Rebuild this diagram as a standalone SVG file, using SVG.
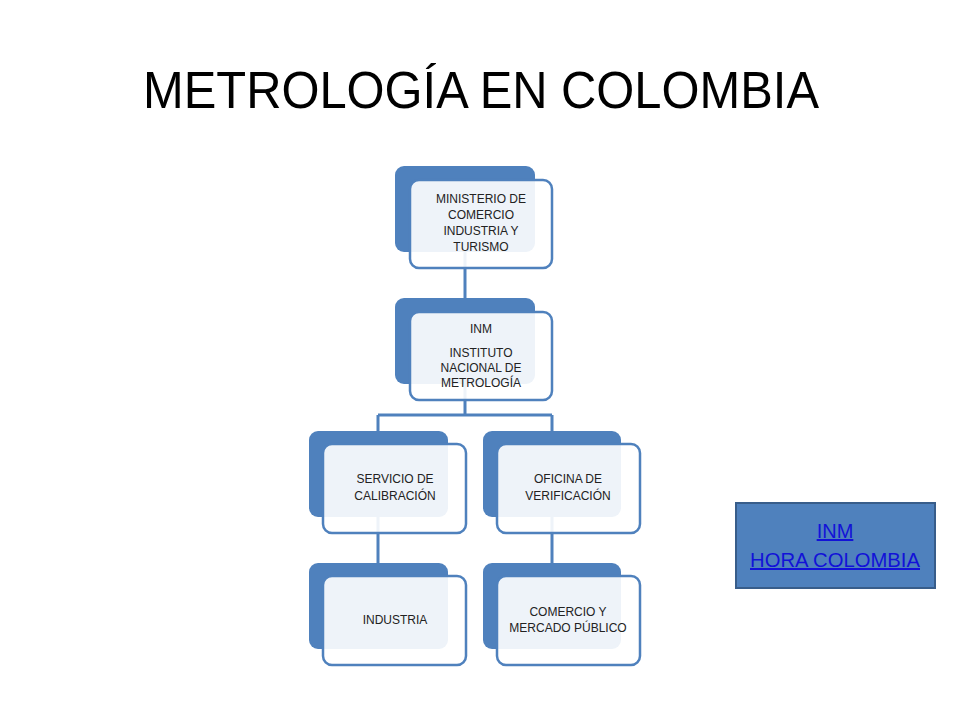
<svg xmlns="http://www.w3.org/2000/svg" width="960" height="720" viewBox="0 0 960 720">
<style>
.back{fill:#4F81BD;}
.front{fill:#FFFFFF;fill-opacity:0.9;stroke:#4F81BD;stroke-width:2.5;}
.conn{fill:none;stroke:#4F81BD;stroke-width:3;}
.t{font-family:"Liberation Sans",Arial,sans-serif;font-size:12px;fill:#222222;text-anchor:middle;}
.title{font-family:"Liberation Sans",Arial,sans-serif;font-size:51px;fill:#000;}
.link{font-family:"Liberation Sans",Arial,sans-serif;font-size:20px;fill:#1212D8;text-anchor:middle;text-decoration:underline;}
</style>
<rect width="960" height="720" fill="#FFFFFF"/>
<text class="title" x="143" y="108" textLength="676" lengthAdjust="spacingAndGlyphs">METROLOGÍA EN COLOMBIA</text>
<g id="connectors">
<path class="conn" d="M465 252 V298"/>
<path class="conn" d="M465 384 V415 M378 415 H552 M378 415 V431 M552 415 V431"/>
<path class="conn" d="M378 517 V563"/>
<path class="conn" d="M552 517 V563"/>
</g>
<g id="ministerio">
<rect class="back" x="395" y="166" width="140" height="86" rx="9"/>
<rect class="front" x="410" y="180" width="142" height="88" rx="9"/>
<text class="t" x="481" y="203">MINISTERIO DE</text>
<text class="t" x="481" y="219">COMERCIO</text>
<text class="t" x="481" y="235">INDUSTRIA Y</text>
<text class="t" x="481" y="251">TURISMO</text>
</g>
<g id="inm">
<rect class="back" x="395" y="298" width="140" height="86" rx="9"/>
<rect class="front" x="410" y="312" width="142" height="88" rx="9"/>
<text class="t" x="481" y="333">INM</text>
<text class="t" x="481" y="357">INSTITUTO</text>
<text class="t" x="481" y="372">NACIONAL DE</text>
<text class="t" x="481" y="387">METROLOGÍA</text>
</g>
<g id="servicio">
<rect class="back" x="309" y="431" width="139" height="86" rx="9"/>
<rect class="front" x="323" y="444" width="143" height="89" rx="9"/>
<text class="t" x="395" y="483">SERVICIO DE</text>
<text class="t" x="395" y="500">CALIBRACIÓN</text>
</g>
<g id="oficina">
<rect class="back" x="483" y="431" width="138" height="86" rx="9"/>
<rect class="front" x="497" y="444" width="143" height="89" rx="9"/>
<text class="t" x="568" y="483">OFICINA DE</text>
<text class="t" x="568" y="500">VERIFICACIÓN</text>
</g>
<g id="industria">
<rect class="back" x="309" y="563" width="139" height="86" rx="9"/>
<rect class="front" x="323" y="576" width="143" height="89" rx="9"/>
<text class="t" x="395" y="624">INDUSTRIA</text>
</g>
<g id="comercio">
<rect class="back" x="483" y="563" width="138" height="86" rx="9"/>
<rect class="front" x="497" y="576" width="143" height="89" rx="9"/>
<text class="t" x="568" y="616">COMERCIO Y</text>
<text class="t" x="568" y="632">MERCADO PÚBLICO</text>
</g>
<g id="hora">
<rect x="736" y="503" width="199" height="85" fill="#4F81BD" stroke="#385D8A" stroke-width="2"/>
<text class="link" x="835" y="538">INM</text>
<text class="link" x="835" y="567" textLength="170" lengthAdjust="spacingAndGlyphs">HORA COLOMBIA</text>
</g>
</svg>
